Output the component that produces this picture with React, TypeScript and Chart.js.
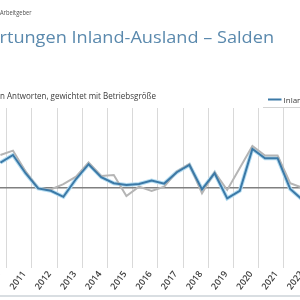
import React, { useEffect, useRef } from 'react';
import { Chart, registerables } from 'chart.js';

Chart.register(...registerables);

const periods = [
  2010.75, 2011.25, 2011.75, 2012.25, 2012.75, 2013.25, 2013.75, 2014.25, 2014.75,
  2015.25, 2015.75, 2016.25, 2016.75, 2017.25, 2017.75, 2018.25, 2018.75, 2019.25,
  2019.75, 2020.25, 2020.75, 2021.25, 2021.75, 2022.25, 2022.75,
];
const inland = [
  12.7, 16.5, 7.4, -0.2, -1.4, -4.4, 4.5, 11.9, 5.4,
  2.4, 1.5, 2.0, 3.7, 2.2, 7.9, 11.5, -0.7, 7.4,
  -5.2, -1.4, 19.5, 14.9, 14.9, -0.5, -6.0,
];
const ausland = [
  16.5, 18.7, 8.3, -0.2, -0.7, 1.9, 5.7, 12.7, 6.0,
  6.5, -4.0, 0.7, -1.5, 0.7, 8.2, 12.0, -2.7, 7.9,
  -1.0, 10.0, 21.0, 16.2, 16.2, 2.4, 0.0,
];
const yearTicks = [2010, 2011, 2012, 2013, 2014, 2015, 2016, 2017, 2018, 2019, 2020, 2021, 2022, 2023];
const seriesNames = ['Inland', 'Ausland'];
const titleText = 'rtungen Inland-Ausland – Salden';
const subtitleText = 'n Antworten, gewichtet mit Betriebsgröße';
const sourceText = 'Arbeitgeber';

const LABEL_SHIFT = 0.7;

function fitText(ctx: CanvasRenderingContext2D, text: string, x: number, y: number, width: number, font: string, color: string) {
  ctx.save();
  ctx.font = font;
  ctx.fillStyle = color;
  ctx.textAlign = 'left';
  ctx.textBaseline = 'alphabetic';
  const w = ctx.measureText(text).width;
  ctx.translate(x, y);
  ctx.scale(width / w, 1);
  ctx.fillText(text, 0, 0);
  ctx.restore();
}

const decorPlugin = {
  id: 'decor',
  afterDraw(chart: any) {
    const ctx: CanvasRenderingContext2D = chart.ctx;
    fitText(ctx, sourceText, 0, 14.5, 31.5, '7px "Open Sans"', '#505050');
    fitText(ctx, titleText, -0.5, 43, 274.5, '17px "Open Sans"', '#5a89ad');
    fitText(ctx, subtitleText, 0, 99, 156, '9.5px "Open Sans"', '#3a3a3a');

    const ds = chart.data.datasets;
    ctx.save();
    ctx.strokeStyle = ds[0].borderColor;
    ctx.lineWidth = 2;
    ctx.beginPath();
    ctx.moveTo(268, 99.5);
    ctx.lineTo(281.5, 99.5);
    ctx.stroke();
    ctx.font = '8px "Open Sans"';
    ctx.fillStyle = '#404040';
    ctx.textBaseline = 'alphabetic';
    ctx.fillText(ds[0].label, 283.5, 102.5);
    ctx.strokeStyle = '#d4d4d4';
    ctx.lineWidth = 1;
    ctx.beginPath();
    ctx.moveTo(263, 107.5);
    ctx.lineTo(300, 107.5);
    ctx.stroke();
    ctx.strokeStyle = '#cdd3d8';
    ctx.lineWidth = 1.5;
    ctx.beginPath();
    ctx.moveTo(0, 296);
    ctx.lineTo(300, 296);
    ctx.stroke();
    ctx.restore();
  },
};

export default function App() {
  const ref = useRef<HTMLCanvasElement | null>(null);

  useEffect(() => {
    document.body.style.margin = '0';
    const canvas = ref.current;
    if (!canvas) return;
    const inlandPts = periods.map((p, i) => ({ x: p, y: inland[i] }));
    const auslandPts = periods.map((p, i) => ({ x: p, y: ausland[i] }));
    const chart = new Chart(canvas, {
      type: 'line',
      data: {
        datasets: [
          { label: seriesNames[0], data: inlandPts, borderColor: '#3b79a7', borderWidth: 2, pointRadius: 0, tension: 0, order: 0 },
          { label: seriesNames[1], data: auslandPts, borderColor: '#b5b5b5', borderWidth: 2, pointRadius: 0, tension: 0, order: 1 },
          { label: '', data: inlandPts, borderColor: '#b4dcf1', borderWidth: 4, pointRadius: 0, tension: 0, order: 2 },
        ],
      },
      options: {
        animation: false,
        responsive: false,
        events: [],
        layout: { padding: { top: 108, left: 0, right: 0, bottom: 0 } },
        plugins: { legend: { display: false }, tooltip: { enabled: false }, title: { display: false } },
        scales: {
          x: {
            type: 'linear',
            min: 2010.734,
            max: 2022.639,
            border: { display: false },
            grid: {
              drawTicks: false,
              color: (c: any) => (c.tick && Number.isInteger(c.tick.value) ? '#d9d9d9' : 'rgba(0,0,0,0)'),
              lineWidth: 1,
            },
            afterBuildTicks: (scale: any) => {
              const t: { value: number }[] = [];
              yearTicks.forEach((y) => {
                t.push({ value: y });
                t.push({ value: y + LABEL_SHIFT });
              });
              scale.ticks = t;
            },
            afterFit: (scale: any) => {
              scale.height = 32;
              scale.paddingLeft = 0;
              scale.paddingRight = 0;
            },
            ticks: {
              autoSkip: false,
              minRotation: 53,
              maxRotation: 53,
              padding: 1,
              color: '#404040',
              font: { family: '"Open Sans"', size: 9, weight: '600' },
              callback: (v: any) => (Number.isInteger(v) ? '' : String(Math.floor(v))),
            },
          },
          y: {
            min: -40,
            max: 40,
            border: { display: false },
            grid: {
              drawTicks: false,
              color: (c: any) => (c.tick && c.tick.value === 0 ? '#808080' : 'rgba(0,0,0,0)'),
              lineWidth: 1.5,
            },
            ticks: { display: false, stepSize: 10 },
            afterFit: (scale: any) => {
              scale.width = 0;
            },
          },
        },
      },
      plugins: [decorPlugin],
    } as any);
    return () => chart.destroy();
  }, []);

  return (
    <div style={{ position: 'fixed', left: 0, top: 0, width: 300, height: 300, background: '#fff' }}>
      <canvas ref={ref} width={300} height={300} style={{ display: 'block' }} />
    </div>
  );
}
